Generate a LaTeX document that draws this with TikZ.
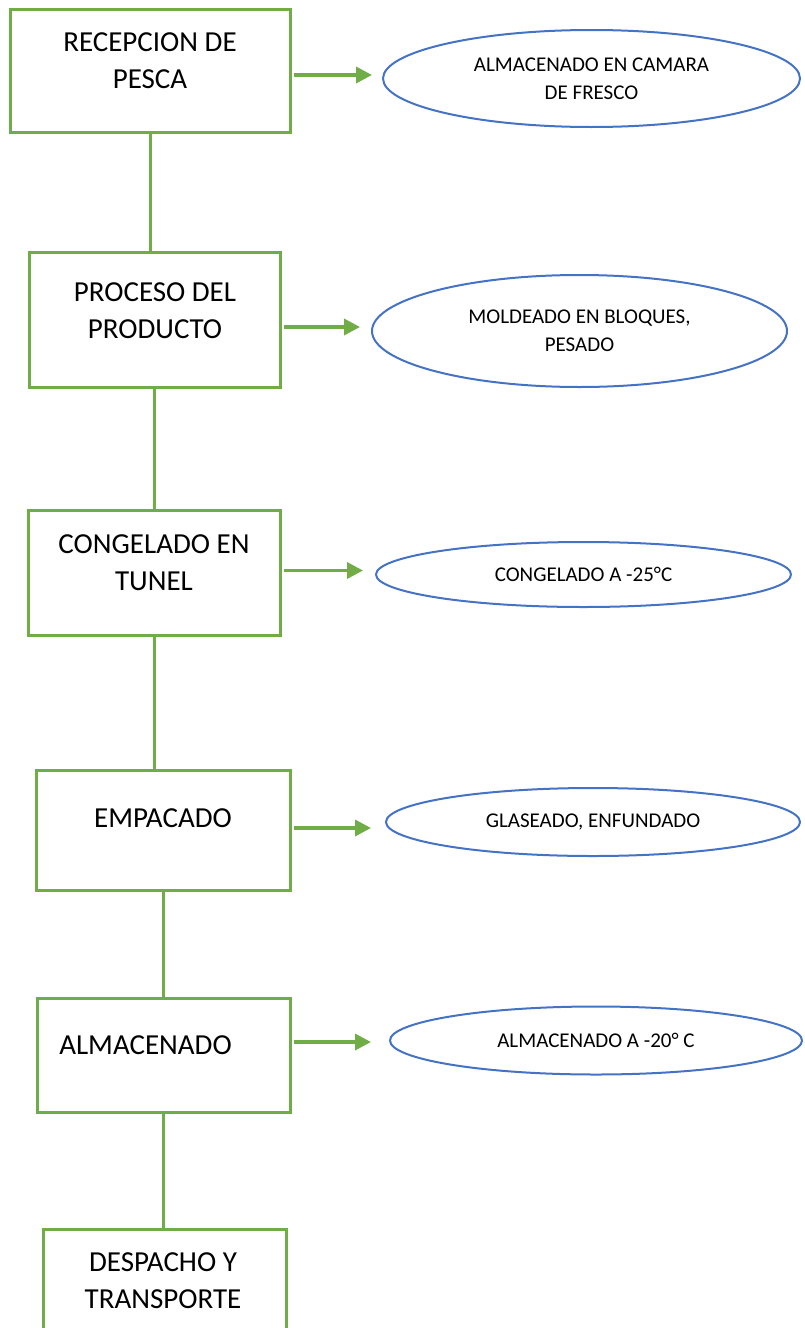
\documentclass[tikz,border=0pt]{standalone}
\usepackage{fontspec}
\setmainfont{Carlito}
\usetikzlibrary{arrows.meta}
\usetikzlibrary{shapes.geometric}
\definecolor{stepgreen}{HTML}{70AD47}
\definecolor{noteblue}{HTML}{4472C4}
\def\thickness{3pt}
\tikzset{stepbox/.style={rectangle, draw=stepgreen, line width=\thickness, inner sep=0pt}}
\tikzset{steplabel/.style={align=center, inner sep=0pt, font=\fontsize{29}{37}\selectfont}}
\tikzset{note/.style={ellipse, draw=noteblue, line width=2pt, inner sep=0pt,
    align=center, font=\fontsize{21}{28}\selectfont}}
\tikzset{link/.style={draw=stepgreen, line width=\thickness}}
\tikzset{flow/.style={link, line width=3.5pt, -{Triangle[length=16pt,width=16pt]}}}

\begin{document}
\begin{tikzpicture}[x=1pt,y=-1pt]

\useasboundingbox (0,0) rectangle (804,1328);
\clip (0,0) rectangle (804,1328);

%% process steps
\node [stepbox, minimum width=280pt, minimum height=123pt] (b1) at (150,70.5) {};
\node [steplabel] (t1) at (150,61) {RECEPCION DE\\PESCA};

\node [stepbox, minimum width=251pt, minimum height=135pt] (b2) at (154.5,319.5) {};
\node [steplabel] (t2) at (155,310.5) {PROCESO DEL\\PRODUCTO};

\node [stepbox, minimum width=252pt, minimum height=125pt] (b3) at (154,572.5) {};
\node [steplabel] (t3) at (154,562.5) {CONGELADO EN\\TUNEL};

\node [stepbox, minimum width=254pt, minimum height=120pt] (b4) at (163,830) {};
\node [steplabel] (t4) at (163,818) {EMPACADO};

\node [stepbox, minimum width=253pt, minimum height=114pt] (b5) at (163.5,1055) {};
\node [steplabel] (t5) at (145.5,1045) {ALMACENADO};

\node [stepbox, minimum width=243pt, minimum height=116pt] (b6) at (164.5,1287) {};
\node [steplabel] (t6) at (163,1280.5) {DESPACHO Y\\TRANSPORTE};

%% notes
\node [note, minimum width=417pt, minimum height=97pt] (e1) at (591.5,78.5) {ALMACENADO EN CAMARA\\DE FRESCO};
\node [note, minimum width=415pt, minimum height=112pt] (e2) at (579.5,331) {MOLDEADO EN BLOQUES,\\PESADO};
\node [note, minimum width=415pt, minimum height=65pt] (e3) at (583.5,574.5) {CONGELADO A -25°C};
\node [note, minimum width=414pt, minimum height=68pt] (e4) at (593,822) {GLASEADO, ENFUNDADO};
\node [note, minimum width=412pt, minimum height=68pt] (e5) at (596,1040.5) {ALMACENADO A -20° C};

%% vertical links
\foreach \a/\b in {b1/b2, b2/b3, b3/b4, b4/b5, b5/b6}
  \draw[link] (\a.south) -- (\a.south |- \b.north);

%% side arrows
\foreach \i/\dy/\gap in {1/-4.5/10, 2/-7.5/11, 3/2/12, 4/2/14, 5/13/18} {
  \coordinate (a\i) at ([yshift=\dy pt]b\i.east);
  \draw[flow, shorten <=2pt, shorten >=\gap pt] (a\i) -- (a\i -| e\i.west);
}

\end{tikzpicture}
\end{document}
